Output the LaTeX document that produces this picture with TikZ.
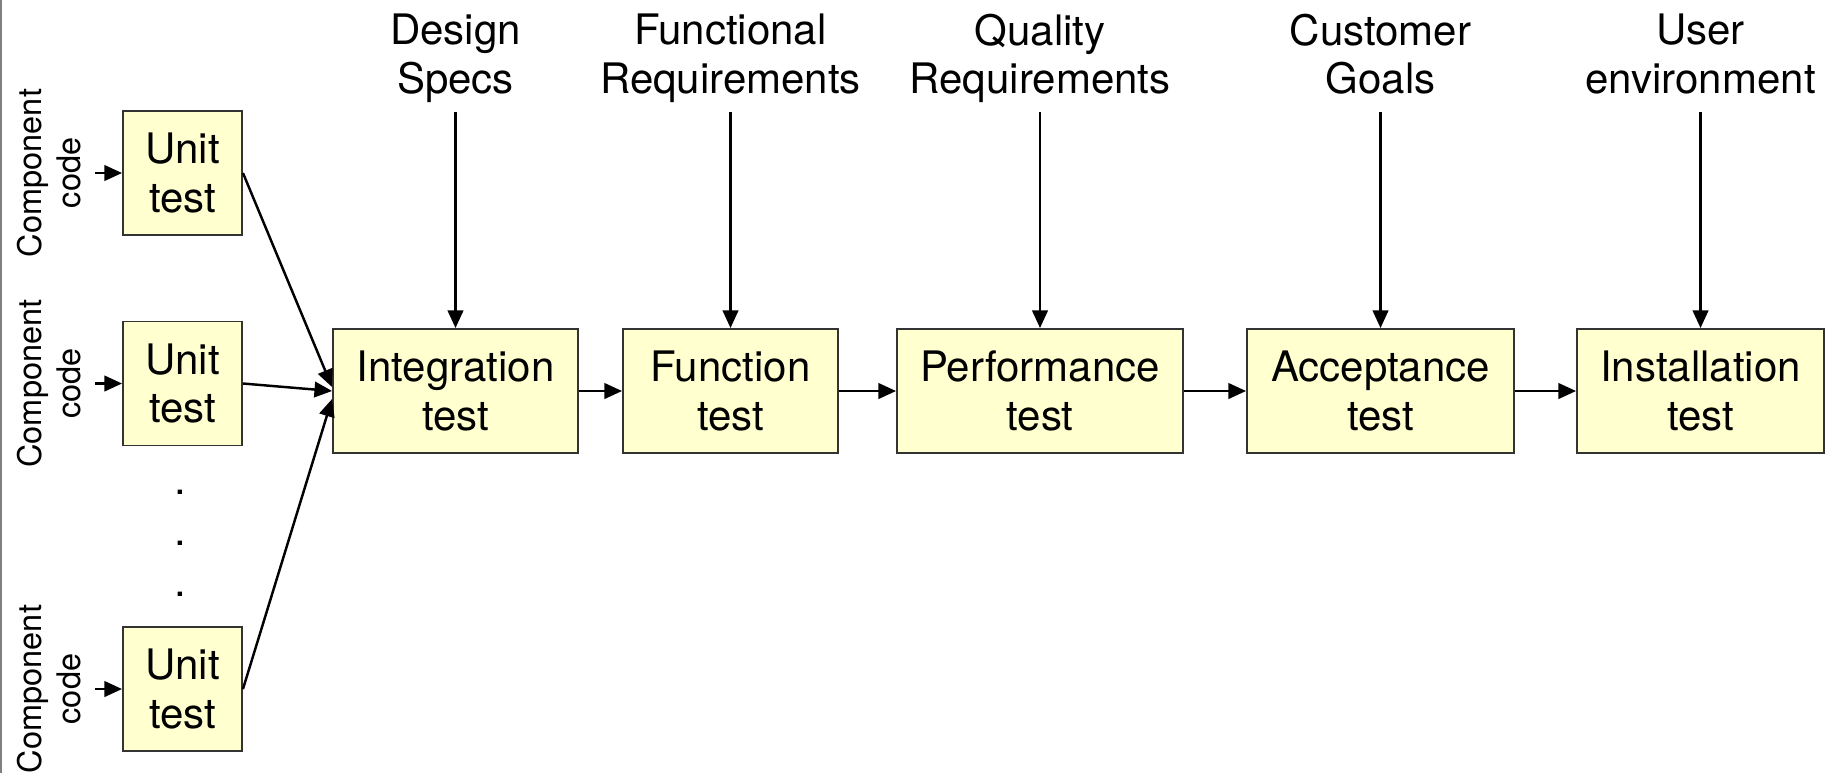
\documentclass[tikz,border=0pt]{standalone}
\usepackage{fontspec}
\setmainfont{TeX Gyre Heros}
\usetikzlibrary{arrows.meta}
\definecolor{boxyellow}{RGB}{255,255,208}
\newcommand{\bigtxt}{\fontsize{11.95}{13.9}\selectfont}
\newcommand{\smalltxt}{\fontsize{9.25}{11.1}\selectfont}

\begin{document}
\begin{tikzpicture}[
    font=\bigtxt,
    >={Triangle[length=5pt,width=4.4pt]},
    stage/.style={draw=black!80, line width=0.55pt, fill=boxyellow,
      align=center, inner sep=0pt, minimum height=1.24cm},
    input/.style={align=center, inner sep=0pt, anchor=north},
    comp/.style={align=center, inner sep=0pt, rotate=90, font=\smalltxt},
    flow/.style={->, line width=0.7pt},
  ]
    \useasboundingbox (0,0) rectangle (18.37,-7.73);
    \draw[gray, line width=0.6pt] (0.01,0) -- (0.01,-7.73);

    % unit tests
    \node[stage, minimum width=1.19cm] (U1) at (1.825,-1.73) {Unit\\test};
    \node[stage, minimum width=1.19cm] (U2) at (1.825,-3.835) {Unit\\test};
    \node[stage, minimum width=1.19cm] (U3) at (1.825,-6.89) {Unit\\test};
    \node[comp] (C1) at (0.49,-1.73) {Component\\code};
    \node[comp] (C2) at (0.49,-3.835) {Component\\code};
    \node[comp] (C3) at (0.49,-6.89) {Component\\code};
    \foreach \n/\y in {1/4.94,2/5.45,3/5.96}
      \node[anchor=base, inner sep=0pt] (dot\n) at (1.80,-\y) {.};

    % test stages
    \node[stage, minimum width=2.45cm] (IT) at (4.555,-3.91) {Integration\\test};
    \node[stage, minimum width=2.15cm] (FT) at (7.305,-3.91) {Function\\test};
    \node[stage, minimum width=2.86cm] (PT) at (10.40,-3.91) {Performance\\test};
    \node[stage, minimum width=2.67cm] (AT) at (13.805,-3.91) {Acceptance\\test};
    \node[stage, minimum width=2.47cm] (ST) at (17.005,-3.91) {Installation\\test};

    % inputs
    \node[input] (DS) at ([yshift=3.15cm]IT.north) {Design\\Specs};
    \node[input] (FR) at ([yshift=3.15cm]FT.north) {Functional\\Requirements};
    \node[input] (QR) at ([yshift=3.15cm]PT.north) {Quality\\Requirements};
    \node[input] (CG) at ([yshift=3.15cm]AT.north) {Customer\\Goals};
    \node[input] (UE) at ([yshift=3.15cm]ST.north) {User\\environment};

    \path[flow] ([xshift=-0.27cm]U1.west) edge (U1);
    \path[flow] ([xshift=-0.27cm]U2.west) edge (U2);
    \path[flow] ([xshift=-0.27cm]U3.west) edge (U3);
    \path[flow] (U1.east) edge ([yshift=0.04cm]IT.west);
    \path[flow] (U2.east) edge (IT.west);
    \path[flow] (U3.east) edge ([yshift=-0.08cm]IT.west);
    \path[flow] (IT) edge (FT);
    \path[flow] (FT) edge (PT);
    \path[flow] (PT) edge (AT);
    \path[flow] (AT) edge (ST);
    \path[flow] ([yshift=2.16cm]IT.north) edge (IT);
    \path[flow] ([yshift=2.16cm]FT.north) edge (FT);
    \path[flow] ([yshift=2.16cm]PT.north) edge (PT);
    \path[flow] ([yshift=2.16cm]AT.north) edge (AT);
    \path[flow] ([yshift=2.16cm]ST.north) edge (ST);
  \end{tikzpicture}
\end{document}
